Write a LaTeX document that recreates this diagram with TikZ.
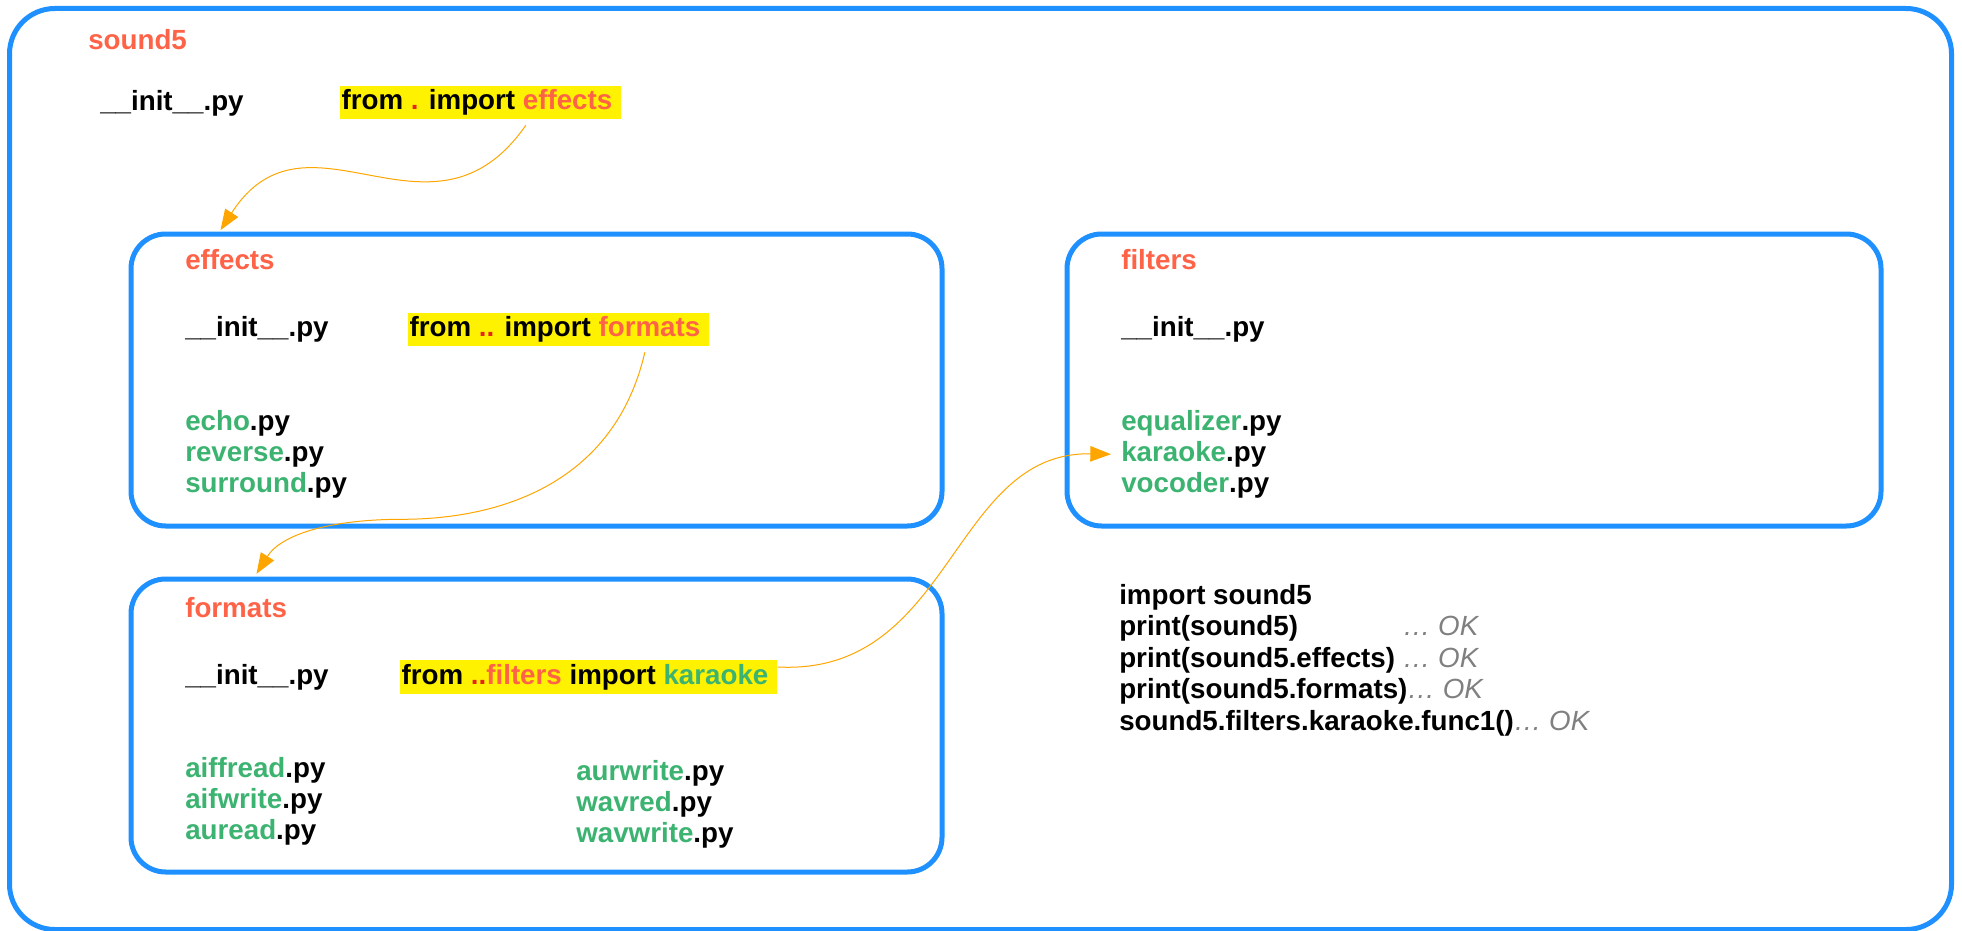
\documentclass[tikz,border=0pt]{standalone}
\usepackage{fontspec}
\setmainfont{Liberation Sans}
\usepackage{tikz}
\usetikzlibrary{arrows.meta,positioning}
\usepackage{xcolor}

\definecolor{pkgblue}{RGB}{30,144,255}
\definecolor{pkgred}{RGB}{255,99,71}
\definecolor{modgreen}{RGB}{60,179,113}
\definecolor{dotred}{RGB}{226,38,30}
\definecolor{linkorange}{RGB}{255,165,0}
\definecolor{okgrey}{RGB}{128,128,128}
\newcommand{\modname}[1]{\textcolor{modgreen}{#1}}
\newcommand{\dotmark}[1]{\textcolor{dotred}{#1}}
\newcommand{\okmark}{{\mdseries\itshape\color{okgrey}… OK}}

\begin{document}
\begin{tikzpicture}[->,>={Triangle[length=15.5pt,width=11.5pt]},x=0.75pt,y=-0.75pt,
                    font=\bfseries\fontsize{20.8pt}{23pt}\selectfont]
  \tikzstyle{pkg}=[rectangle,rounded corners=26pt,draw=pkgblue,line width=3.75pt]
  \tikzstyle{pkg name}=[anchor=west,inner sep=0pt,text=pkgred]
  \tikzstyle{py file}=[anchor=west,inner sep=0pt,text height=15.2pt,text depth=4.4pt]
  \tikzstyle{import line}=[py file,fill=yellow,inner xsep=1pt,inner ysep=2.6pt]
  \tikzstyle{link}=[color=linkorange,line width=0.75pt]

  \useasboundingbox (0,0) rectangle (1962,931);

  % package boxes
  \node[pkg,rounded corners=34pt,minimum width=1456.5pt,minimum height=690.75pt] (S) at (980.5,469) {};
  \node[pkg,minimum width=608.25pt,minimum height=219pt] (E) at (536.5,380) {};
  \node[pkg,minimum width=610.5pt,minimum height=219pt] (F) at (1474,380) {};
  \node[pkg,minimum width=608.25pt,minimum height=219.75pt] (M) at (536.5,725.5) {};

  % sound5
  \node[pkg name] (S0) at (88,40) {sound5};
  \node[py file] (S1) at (100,103) {\_\_init\_\_.py};
  \node[import line] (S2) at (340,102.5) {from \dotmark{.} import \textcolor{pkgred}{effects}\kern5.8pt};

  % effects
  \node[pkg name] (E0) at (185,260) {effects};
  \node[py file] (E1) at (185,329) {\_\_init\_\_.py};
  \node[import line] (E2) at (408,329.5) {from \dotmark{..} import \textcolor{pkgred}{formats}\kern5.8pt};
  \node[py file] (E3) at (185,423) {\modname{echo}.py};
  \node[py file] (E4) [below=3.4pt of E3.south west,anchor=north west] {\modname{reverse}.py};
  \node[py file] (E5) [below=3.4pt of E4.south west,anchor=north west] {\modname{surround}.py};

  % filters
  \node[pkg name] (F0) at (1121,260) {filters};
  \node[py file] (F1) at (1121,329) {\_\_init\_\_.py};
  \node[py file] (F3) at (1121,423) {\modname{equalizer}.py};
  \node[py file] (F4) [below=3.4pt of F3.south west,anchor=north west] {\modname{karaoke}.py};
  \node[py file] (F5) [below=3.4pt of F4.south west,anchor=north west] {\modname{vocoder}.py};

  % formats
  \node[pkg name] (M0) at (185,608) {formats};
  \node[py file] (M1) at (185,677) {\_\_init\_\_.py};
  \node[import line] (M2) at (400,677) {from \dotmark{..}\textcolor{pkgred}{filters} import \modname{karaoke}\kern5.8pt};
  \node[py file] (M3) at (185,770) {\modname{aiffread}.py};
  \node[py file] (M4) [below=3.4pt of M3.south west,anchor=north west] {\modname{aifwrite}.py};
  \node[py file] (M5) [below=3.4pt of M4.south west,anchor=north west] {\modname{auread}.py};
  \node[py file] (M6) at (576,773) {\modname{aurwrite}.py};
  \node[py file] (M7) [below=3.4pt of M6.south west,anchor=north west] {\modname{wavred}.py};
  \node[py file] (M8) [below=3.4pt of M7.south west,anchor=north west] {\modname{wavwrite}.py};

  % checks
  \node[py file] (P1) at (1119,597) {import sound5};
  \node[py file] (P2) [below=3.65pt of P1.south west,anchor=north west] {print(sound5)\hphantom{.effects} \okmark};
  \node[py file] (P3) [below=3.65pt of P2.south west,anchor=north west] {print(sound5.effects) \okmark};
  \node[py file] (P4) [below=3.65pt of P3.south west,anchor=north west] {print(sound5.formats)\okmark};
  \node[py file] (P5) [below=3.65pt of P4.south west,anchor=north west] {sound5.filters.karaoke.func1()\okmark};

  \draw[link] ([xshift=33.75pt,yshift=-4.5pt]S2.south) .. controls +(-94,135) and +(87,-135) .. ([xshift=69pt,yshift=1pt]E.north west);
  \draw[link] ([xshift=64.5pt,yshift=-4.5pt]E2.south) .. controls +(-30,130) and +(100,0) .. ++(-243,167)
                                                  .. controls +(-70,0) and +(25,-40) .. ([xshift=96pt,yshift=2pt]M.north west);
  \draw[link] ([yshift=7.5pt]M2.east) .. controls +(175,9) and +(-160,-3) .. ([xshift=-7.5pt]F4.west);

\end{tikzpicture}
\end{document}
